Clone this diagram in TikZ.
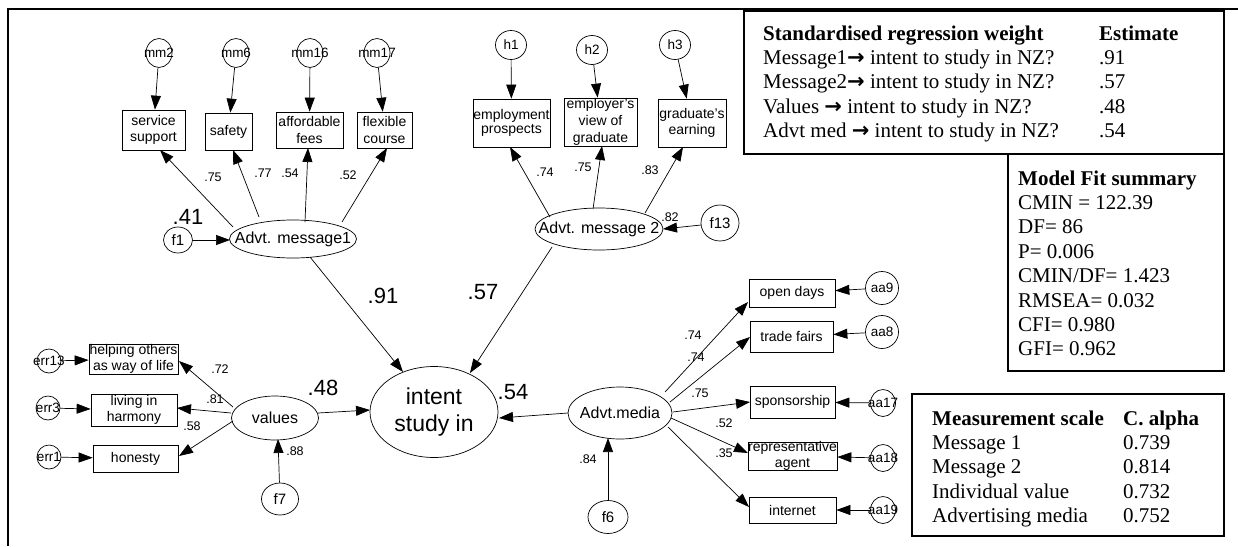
\documentclass[tikz,border=0pt]{standalone}
\usepackage{fontspec}
\setmainfont{Liberation Sans}
\newfontfamily\tnr{Liberation Serif}
\newfontfamily\djv{DejaVu Sans}
\usetikzlibrary{arrows.meta,shapes.geometric}
\begin{document}
\begin{tikzpicture}[x=1pt,y=-1pt,
  every node/.style={inner sep=0pt},
  obs/.style={draw, rectangle, line width=0.7pt},
  lat/.style={draw, ellipse, line width=0.7pt},
  res/.style={draw, ellipse, line width=0.7pt},
  arr/.style={-{Triangle[length=14pt,width=10pt]}, line width=0.7pt},
  bt/.style={font=\fontsize{14}{16.7}\selectfont, align=center},
  ct/.style={font=\fontsize{13.5}{15}\selectfont},
  ft/.style={font=\fontsize{15}{17}\selectfont},
  et/.style={font=\fontsize{16}{18}\selectfont},
  sl/.style={font=\fontsize{12.5}{14}\selectfont},
  bl/.style={font=\fontsize{22}{24}\selectfont},
  tb/.style={draw, line width=1.6pt, rectangle, anchor=north west},
  tt/.style={anchor=base west, font=\tnr\fontsize{21}{24.4}\selectfont},
]
\useasboundingbox (0,0) rectangle (1238,546);
\draw[line width=1.6pt] (8,546) -- (8,9) -- (1238,9);

% ---- tables
\node[tb, minimum width=480pt, minimum height=143pt] (regbox) at (743,10) {};
\node[tb, minimum width=216pt, minimum height=217pt] (fitbox) at (1007,153) {};
\node[tb, minimum width=312pt, minimum height=142pt] (msbox) at (911,393) {};
\newcommand{\myarr}{{\djv\bfseries →}}
\node[tt] (regtxt) at (763,40) {\begin{tabular}[t]{@{}p{336pt}@{}l@{}}
\textbf{Standardised regression weight} & \textbf{Estimate}\\
Message1\myarr{} intent to study in NZ? & .91\\
Message2\myarr{} intent to study in NZ? & .57\\
Values \myarr{} intent to study in NZ? & .48\\
Advt med \myarr{} intent to study in NZ? & .54
\end{tabular}};
\node[tt] (fittxt) at (1018,185) {\begin{tabular}[t]{@{}l@{}}
\textbf{Model Fit summary}\\
CMIN = 122.39\\
DF= 86\\
P= 0.006\\
CMIN/DF= 1.423\\
RMSEA= 0.032\\
CFI= 0.980\\
GFI= 0.962
\end{tabular}};
\node[tt] (mstxt) at (932,425) {\begin{tabular}[t]{@{}p{191pt}@{}l@{}}
\textbf{Measurement scale} & \textbf{C. alpha}\\
Message 1 & 0.739\\
Message 2 & 0.814\\
Individual value & 0.732\\
Advertising media & 0.752
\end{tabular}};

% ---- Advt. message1 block
\node[res, minimum width=26pt, minimum height=29pt, label={[ct]center:mm2}] (mm2) at (159,53) {};
\node[res, minimum width=26pt, minimum height=29pt, label={[ct]center:mm6}] (mm6) at (236,53) {};
\node[res, minimum width=26pt, minimum height=29pt, label={[ct]center:mm16}] (mm16) at (310,53) {};
\node[res, minimum width=26pt, minimum height=29pt, label={[ct]center:mm17}] (mm17) at (377,53) {};
\node[obs, minimum width=63pt, minimum height=40pt, label={[bt]center:{service\\support}}] (ss) at (153.5,130) {};
\node[obs, minimum width=47pt, minimum height=37pt, label={[bt]center:safety}] (safety) at (228.5,131.5) {};
\node[obs, minimum width=67pt, minimum height=36pt, label={[bt]center:{affordable\\fees}}] (aff) at (309.5,130) {};
\node[obs, minimum width=55pt, minimum height=36pt, label={[bt]center:{flexible\\course}}] (flex) at (384.5,130) {};
\node[lat, minimum width=127pt, minimum height=38pt, label={[et]center:Advt. message1}] (am1) at (293,239) {};
\node[res, minimum width=29pt, minimum height=26pt, label={[ft]center:f1}] (f1) at (178,240) {};

% ---- Advt. message 2 block
\node[res, minimum width=31pt, minimum height=29pt, label={[ct]center:h1}] (h1) at (511,45) {};
\node[res, minimum width=31pt, minimum height=29pt, label={[ct]center:h2}] (h2) at (592,50) {};
\node[res, minimum width=31pt, minimum height=29pt, label={[ct]center:h3}] (h3) at (675,45) {};
\node[obs, minimum width=77pt, minimum height=48pt, label={[bt, font=\fontsize{14}{14.5}\selectfont]center:{employment\\prospects}}] (emp) at (511.5,123) {};
\node[obs, minimum width=73pt, minimum height=48pt, label={[bt]center:{employer's\\view of\\graduate}}] (empv) at (600.5,122) {};
\node[obs, minimum width=68pt, minimum height=48pt, label={[bt]center:{graduate's\\earning}}] (grad) at (692,123) {};
\node[lat, minimum width=128pt, minimum height=42pt, label={[et]center:Advt. message 2}] (am2) at (599,229) {};
\node[res, minimum width=38pt, minimum height=36pt, label={[ft]center:f13}] (f13) at (720,223) {};

% ---- values block
\node[obs, minimum width=89pt, minimum height=30pt, label={[bt]center:{helping others\\as way of life}}] (help) at (133.5,359) {};
\node[obs, minimum width=86pt, minimum height=32pt, label={[bt]center:{living in\\harmony}}] (living) at (134,410) {};
\node[obs, minimum width=85pt, minimum height=27pt, label={[bt]center:honesty}] (honesty) at (135.5,458.5) {};
\node[res, minimum width=24pt, minimum height=24pt, label={[ct]center:err13}] (err13) at (49,361) {};
\node[res, minimum width=24pt, minimum height=24pt, label={[ct]center:err3}] (err3) at (48,408) {};
\node[res, minimum width=24pt, minimum height=24pt, label={[ct]center:err1}] (err1) at (49,457) {};
\node[lat, minimum width=87pt, minimum height=44pt, label={[et]center:values}] (values) at (275,418) {};
\node[res, minimum width=37pt, minimum height=32pt, label={[ft]center:f7}] (f7) at (280,499) {};

% ---- intent
\node[lat, minimum width=128pt, minimum height=91pt, label={[font=\fontsize{23}{27}\selectfont, align=center]center:{intent\\study in}}] (intent) at (434,412) {};

% ---- media block
\node[lat, minimum width=104pt, minimum height=52pt, label={[et]center:Advt.media}] (media) at (620,413) {};
\node[res, minimum width=40pt, minimum height=33pt, label={[ft]center:f6}] (f6) at (608,517) {};
\node[obs, minimum width=86pt, minimum height=28pt, label={[bt]center:open days}] (open) at (792,293) {};
\node[obs, minimum width=83pt, minimum height=31pt, label={[bt]center:trade fairs}] (trade) at (791.5,336.5) {};
\node[obs, minimum width=85pt, minimum height=32pt, label={[bt]center:sponsorship}] (spons) at (792.5,402) {};
\node[obs, minimum width=89pt, minimum height=28pt, label={[bt]center:{representative\\agent}}] (rep) at (792.5,456) {};
\node[obs, minimum width=87pt, minimum height=26pt, label={[bt]center:internet}] (internet) at (792.5,510) {};
\node[res, minimum width=33pt, minimum height=33pt, label={[ct]center:aa9}] (aa9) at (882,288) {};
\node[res, minimum width=33pt, minimum height=33pt, label={[ct]center:aa8}] (aa8) at (882,332) {};
\node[res, minimum width=25pt, minimum height=27pt, label={[ct]center:aa17}] (aa17) at (883,403) {};
\node[res, minimum width=25pt, minimum height=27pt, label={[ct]center:aa18}] (aa18) at (883,458) {};
\node[res, minimum width=25pt, minimum height=27pt, label={[ct]center:aa19}] (aa19) at (883,510) {};

% ---- connectors: message 1
\draw[arr] (mm2) -- (ss);
\draw[arr] (mm6) -- (safety);
\draw[arr] (mm16) -- (aff);
\draw[arr] (mm17) -- (flex);
\draw[arr] ([shift={(-60,-12)}]am1.center) -- ([shift={(6.5,20)}]ss.center);
\draw[arr] ([shift={(-34,-22)}]am1.center) -- ([shift={(4.5,18.5)}]safety.center);
\draw[arr] ([shift={(12,-17)}]am1.center) -- ([shift={(-1.5,18)}]aff.center);
\draw[arr] ([shift={(49,-17)}]am1.center) -- ([shift={(2.5,18)}]flex.center);
\draw[arr] (f1) -- ([shift={(-63,1)}]am1.center);
\draw[arr] ([shift={(17,18)}]am1.center) -- ([shift={(-31,-40)}]intent.center);

% ---- connectors: message 2
\draw[arr] (h1) -- (emp);
\draw[arr] (h2) -- (empv);
\draw[arr] (h3) -- (grad);
\draw[arr] ([shift={(-49,-12)}]am2.center) -- ([shift={(-1.5,24)}]emp.center);
\draw[arr] ([shift={(-6,-20)}]am2.center) -- ([shift={(1.5,24)}]empv.center);
\draw[arr] ([shift={(46,-16)}]am2.center) -- ([shift={(-9,24)}]grad.center);
\draw[arr] (f13) -- ([shift={(64,0)}]am2.center);
\draw[arr] ([shift={(-47,18)}]am2.center) -- ([shift={(36,-39)}]intent.center);

% ---- connectors: values
\draw[arr] (err13) -- (help);
\draw[arr] (err3) -- (living);
\draw[arr] (err1) -- (honesty);
\draw[arr] ([shift={(-42,-11)}]values.center) -- ([shift={(45.5,2)}]help.center);
\draw[arr] ([shift={(-44,-5)}]values.center) -- ([shift={(43,-2)}]living.center);
\draw[arr] ([shift={(-42,3)}]values.center) -- ([shift={(43.5,-2.5)}]honesty.center);
\draw[arr] (f7) -- ([shift={(3,21)}]values.center);
\draw[arr] ([shift={(43,-5)}]values.center) -- ([shift={(-64,-2)}]intent.center);

% ---- connectors: media
\draw[arr] ([shift={(-52,0)}]media.center) -- ([shift={(65,6)}]intent.center);
\draw[arr] (f6) -- ([shift={(-12,25)}]media.center);
\draw[arr] ([shift={(45,-21)}]media.center) -- ([shift={(-44,9)}]open.center);
\draw[arr] ([shift={(50,-11)}]media.center) -- ([shift={(-41.5,0.5)}]trade.center);
\draw[arr] ([shift={(53,-1)}]media.center) -- ([shift={(-42.5,0)}]spons.center);
\draw[arr] ([shift={(51,5)}]media.center) -- ([shift={(-44.5,-3)}]rep.center);
\draw[arr] ([shift={(48,14)}]media.center) -- ([shift={(-43.5,-3)}]internet.center);
\draw[arr] (aa9) -- (open);
\draw[arr] (aa8) -- (trade);
\draw[arr] (aa17) -- (spons);
\draw[arr] (aa18) -- (rep);
\draw[arr] (aa19) -- (internet);

% ---- coefficient labels
\node[sl] (c1) at (213,177) {.75};
\node[sl] (c2) at (263,173) {.77};
\node[sl] (c3) at (290,173) {.54};
\node[sl] (c4) at (348,175) {.52};
\node[sl] (c5) at (545,172) {.74};
\node[sl] (c6) at (583,167) {.75};
\node[sl] (c7) at (650,170) {.83};
\node[sl] (c8) at (670,217) {.82};
\node[sl] (c9) at (220,369) {.72};
\node[sl] (c10) at (215,399) {.81};
\node[sl] (c11) at (192,426) {.58};
\node[sl] (c12) at (295,451) {.88};
\node[sl] (c13) at (693,335) {.74};
\node[sl] (c14) at (696,357) {.74};
\node[sl] (c15) at (700,393) {.75};
\node[sl] (c16) at (724,423) {.52};
\node[sl] (c17) at (724,453) {.35};
\node[sl] (c18) at (588,459) {.84};
\node[bl] (b1) at (188,217) {.41};
\node[bl] (b2) at (383,296) {.91};
\node[bl] (b3) at (483,292) {.57};
\node[bl] (b4) at (323,388) {.48};
\node[bl] (b5) at (513,392) {.54};
\end{tikzpicture}
\end{document}
